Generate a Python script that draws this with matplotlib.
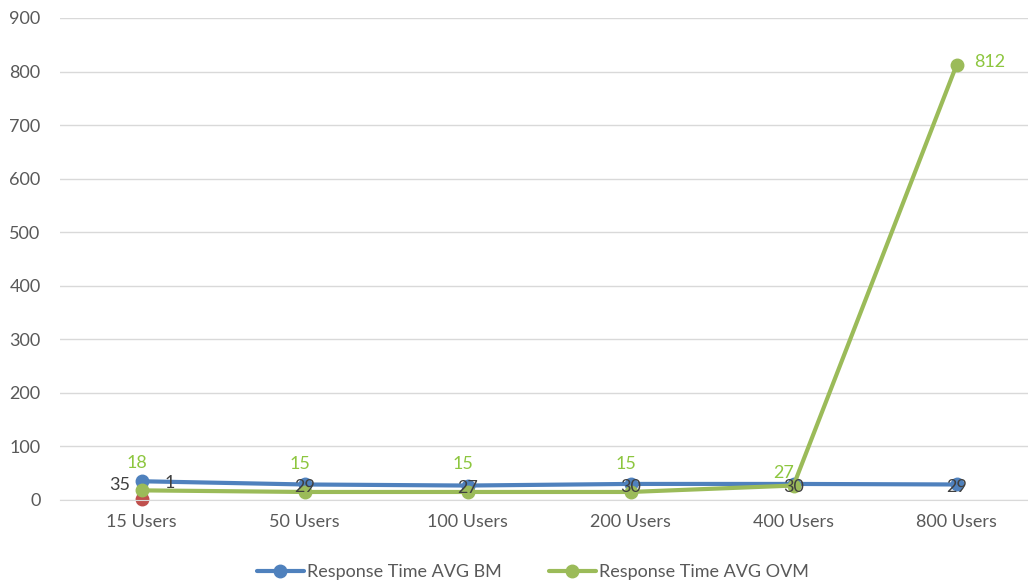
import matplotlib.pyplot as plt

categories = ["15 Users", "50 Users", "100 Users", "200 Users", "400 Users", "800 Users"]
bm_values = [35, 29, 27, 30, 30, 29]
ovm_values = [18, 15, 15, 15, 27, 812]
extra_values = [1]  # single red point at 15 Users

blue = "#4F81BD"
green = "#9BBB59"
red = "#C0504D"
label_green = "#8DC63F"
gray_text = "#595959"

plt.rcParams['font.family'] = ['Lato', 'DejaVu Sans']
fs = 13

fig = plt.figure(figsize=(10.28, 5.86), dpi=100)
ax = fig.add_axes([60 / 1028, 86 / 586, 978 / 1028, 482 / 586])

x = list(range(len(categories)))

ax.plot(x[:len(extra_values)], extra_values, color=red, lw=0,
        marker='o', ms=9, zorder=2, clip_on=False)
ax.plot(x, bm_values, color=blue, lw=3, marker='o', ms=9, zorder=3,
        label="Response Time AVG BM", solid_capstyle='round')
ax.plot(x, ovm_values, color=green, lw=3, marker='o', ms=9, zorder=4,
        label="Response Time AVG OVM", solid_capstyle='round')

# data labels
for i, v in enumerate(bm_values):
    if i == 0:
        ax.annotate(str(v), (i, v), xytext=(-8, -3), textcoords='offset points',
                    ha='right', va='center', fontsize=fs, color='#404040', zorder=6)
    else:
        ax.annotate(str(v), (i, v), xytext=(0, -2), textcoords='offset points',
                    ha='center', va='center', fontsize=fs, color='#404040', zorder=6)

for i, v in enumerate(ovm_values):
    if i == len(ovm_values) - 1:
        ax.annotate(str(v), (i, v), xytext=(13, 2), textcoords='offset points',
                    ha='left', va='center', fontsize=fs, color=label_green, zorder=6)
    elif i == 4:
        ax.annotate(str(v), (i, v), xytext=(-7, 9), textcoords='offset points',
                    ha='center', va='center', fontsize=fs, color=label_green, zorder=6)
    else:
        ax.annotate(str(v), (i, v), xytext=(-3, 20), textcoords='offset points',
                    ha='center', va='center', fontsize=fs, color=label_green, zorder=6)

for i, v in enumerate(extra_values):
    ax.annotate(str(v), (i, v), xytext=(20, 12), textcoords='offset points',
                ha='center', va='center', fontsize=fs, color='#404040', zorder=6)

ax.set_xlim(-0.5, len(categories) - 0.5)
ax.set_ylim(0, 900)
ax.set_yticks(range(0, 901, 100))
ax.set_xticks(x)
ax.set_xticklabels(categories)
ax.tick_params(axis='both', length=0, labelsize=fs, labelcolor=gray_text)
ax.tick_params(axis='x', pad=10)
ax.tick_params(axis='y', pad=14)

ax.grid(axis='y', color='#D9D9D9', lw=1)
ax.set_axisbelow(True)
for s in ['top', 'right', 'left']:
    ax.spines[s].set_visible(False)
ax.spines['bottom'].set_color('#D9D9D9')

fig.legend(loc='center', bbox_to_anchor=(533 / 1028, 1 - 572 / 586), ncol=2,
           frameon=False, fontsize=fs, labelcolor=gray_text, handlelength=2.6,
           columnspacing=2.6, handletextpad=0.2)

fig.savefig("out.png", dpi=100)
